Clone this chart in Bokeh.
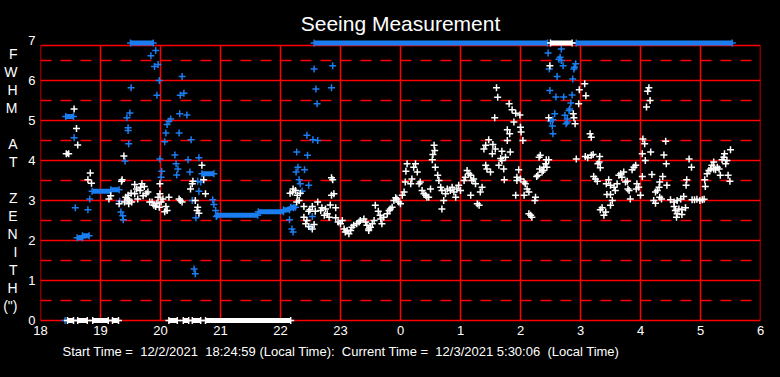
from bokeh.plotting import figure
from bokeh.models import Range1d, FixedTicker, Title, LinearAxis
from bokeh.embed import file_html
from bokeh.resources import INLINE

# ---------------- data ----------------
hour_ticks = list(range(18, 31))
hour_labels = ["18", "19", "20", "21", "22", "23", "0", "1", "2", "3", "4", "5", "6"]
fwhm_ticks = [0, 1, 2, 3, 4, 5, 6, 7]
fwhm_half = [0.5, 1.5, 2.5, 3.5, 4.5, 5.5, 6.5]
frame_top = 6.875
title_text = "Seeing Measurement"
footer_text = ("Start Time =\u00a0 12/2/2021\u00a0 18:24:59 (Local Time):\u00a0 "
               "Current Time =\u00a0 12/3/2021 5:30:06\u00a0 (Local Time)")
# vertical y-axis title, one letter per line, placed on the FWHM scale
ylabel_letters = ["F", "W", "H", "M", "A", "T", "Z", "E", "N", "I", "T", "H", "(\")"]
ylabel_pos = [6.675, 6.225, 5.775, 5.325, 4.425, 3.975, 3.075, 2.625, 2.175, 1.725, 1.275, 0.825, 0.375]

# scattered white samples (hour, FWHM)
white_points = [
    (18.56, 5.29), (18.60, 4.80), (18.62, 4.39), (18.83, 3.69), (18.79, 3.52), (18.85, 3.43),
    (19.14, 3.04), (19.17, 3.12), (19.31, 2.92), (19.35, 3.48), (19.36, 3.52), (19.39, 4.11),
    (19.42, 3.08), (19.46, 3.13), (19.45, 3.04), (19.48, 3.00), (19.52, 2.96), (19.57, 3.17),
    (19.60, 3.29), (19.62, 3.04), (19.66, 3.25), (19.67, 3.33), (19.69, 3.42), (19.73, 3.35),
    (19.71, 3.12), (19.76, 3.17), (19.79, 3.21), (19.57, 3.40), (19.51, 3.18), (19.40, 2.96),
    (19.47, 2.92), (19.82, 2.96), (19.86, 2.96), (19.89, 2.88), (19.92, 2.85), (19.94, 2.93),
    (19.98, 2.83), (20.01, 2.96), (20.04, 3.04), (20.09, 2.85), (20.11, 2.75), (20.07, 2.72),
    (20.14, 3.08), (19.99, 3.17), (19.96, 3.08), (19.99, 3.42), (20.31, 3.04), (20.33, 3.00),
    (20.36, 2.96), (20.53, 3.42), (20.54, 3.48), (20.50, 3.29), (20.58, 3.00), (20.62, 2.83),
    (20.64, 2.68), (20.61, 2.75), (20.75, 3.17), (20.69, 3.88), (20.72, 3.52),
    (22.85, 3.57), (22.87, 3.52), (22.21, 3.29), (22.20, 3.21), (22.25, 3.25), (22.16, 3.18),
    (22.28, 3.13), (22.31, 3.00), (22.33, 3.18), (22.27, 2.96), (22.85, 3.13), (22.89, 3.17),
    (22.62, 2.96), (22.83, 2.89), (22.92, 2.82), (22.69, 2.82), (22.75, 2.79), (22.67, 2.75),
    (22.49, 2.77), (22.53, 2.85), (22.39, 2.85), (22.47, 2.73), (22.58, 2.73), (22.78, 2.67),
    (22.81, 2.58), (22.73, 2.63), (22.39, 2.58), (22.42, 2.42), (22.44, 2.50), (22.56, 2.40),
    (22.53, 2.29), (22.47, 2.35), (22.92, 2.57), (22.96, 2.46), (23.00, 2.42), (23.03, 2.50),
    (23.06, 2.29), (23.08, 2.21), (23.14, 2.17), (23.17, 2.25), (23.11, 2.25), (23.19, 2.33),
    (23.22, 2.38), (23.27, 2.42), (23.31, 2.46), (23.33, 2.50), (23.39, 2.54), (23.42, 2.46),
    (23.44, 2.38), (23.47, 2.29), (23.50, 2.33), (23.53, 2.42), (23.56, 2.50), (23.47, 2.25),
    (23.58, 2.88), (23.63, 2.73), (23.66, 2.63), (23.69, 2.42), (23.67, 2.54), (23.72, 2.58),
    (23.78, 2.67), (23.81, 2.75), (23.83, 2.79), (23.86, 2.83), (23.89, 3.00), (23.94, 3.04),
    (23.97, 2.96), (24.00, 2.92), (24.03, 3.13), (24.06, 3.21), (23.92, 3.07), (24.08, 3.46),
    (24.17, 3.42), (24.19, 3.54), (24.31, 3.42), (24.33, 3.46), (24.36, 3.25), (24.42, 3.13),
    (24.44, 3.08), (24.39, 3.17), (24.47, 3.08), (24.50, 3.29), (24.11, 3.92), (24.25, 3.92),
    (24.22, 3.83), (24.28, 3.71), (24.09, 3.73), (24.53, 4.02), (24.56, 4.38), (24.57, 4.25),
    (24.54, 4.15), (24.58, 3.83), (24.62, 3.63), (24.64, 3.50), (24.67, 3.33), (24.69, 3.25),
    (24.72, 3.00), (24.69, 2.79), (24.75, 3.17), (24.78, 3.29), (24.83, 3.25), (24.86, 3.33),
    (24.89, 3.21), (24.92, 3.08), (24.94, 3.29), (24.97, 3.38), (25.00, 3.25), (25.06, 3.50),
    (25.08, 3.58), (25.11, 3.75), (25.14, 3.67), (25.17, 3.63), (25.19, 3.50), (25.22, 3.54),
    (25.25, 3.42), (25.17, 3.13), (25.33, 3.21), (25.36, 3.33), (25.31, 2.88), (25.28, 2.92),
    (25.39, 4.29), (25.42, 4.38), (25.47, 4.52), (25.54, 4.40), (25.58, 4.29), (25.53, 4.17),
    (25.42, 3.88), (25.44, 3.79), (25.50, 3.71), (25.64, 3.88), (25.69, 4.00), (25.75, 4.08),
    (25.78, 4.50), (25.83, 4.21), (25.67, 4.05), (25.72, 3.79), (25.78, 4.77), (25.82, 4.67),
    (25.89, 4.96), (26.00, 4.83), (26.01, 4.71), (26.04, 4.50), (25.94, 3.58), (26.00, 3.54),
    (26.06, 3.46), (26.08, 3.42), (26.11, 3.29), (26.14, 3.21), (25.92, 3.13), (26.06, 3.13),
    (26.14, 2.67), (25.60, 5.82), (25.62, 5.58), (25.81, 5.42), (25.86, 5.27), (25.92, 5.18),
    (25.99, 5.14), (25.57, 5.07), (26.49, 6.37), (27.07, 5.92), (26.98, 5.77), (27.09, 5.62),
    (26.97, 5.42), (26.47, 5.07), (26.88, 5.17), (26.89, 5.07), (26.91, 4.92), (28.14, 5.82),
    (28.12, 5.73), (28.16, 5.50), (28.10, 5.34), (27.16, 4.67), (27.18, 4.58), (25.69, 4.23),
    (26.33, 4.13), (26.31, 4.08), (26.43, 4.02), (26.47, 4.02), (26.42, 3.92), (26.39, 3.83),
    (26.44, 3.83), (26.32, 3.79), (26.36, 3.71), (26.38, 3.75), (25.73, 3.52), (25.97, 3.77),
    (25.94, 3.50), (26.27, 3.60), (26.29, 3.63), (26.25, 3.08), (26.24, 3.00), (26.17, 2.63),
    (26.19, 2.58), (26.93, 4.04), (27.08, 4.10), (27.12, 4.07), (27.18, 4.13), (27.21, 4.15),
    (27.32, 4.10), (27.29, 3.92), (27.33, 3.82), (27.31, 3.96), (27.22, 3.60), (27.25, 3.54),
    (27.28, 3.48), (27.47, 3.52), (27.43, 3.42), (27.50, 3.38), (27.56, 3.33), (27.58, 3.25),
    (27.61, 3.42), (27.44, 3.15), (27.50, 3.15), (27.53, 3.00), (27.50, 2.88), (27.64, 3.63),
    (27.67, 3.67), (27.69, 3.58), (27.72, 3.71), (27.75, 3.46), (27.78, 3.48), (27.79, 3.29),
    (27.81, 3.25), (27.83, 3.04), (27.86, 3.77), (27.89, 3.83), (27.92, 3.88), (27.94, 3.42),
    (27.97, 3.33), (28.00, 3.13), (28.03, 3.60), (27.93, 3.29), (27.36, 2.82), (27.33, 2.77),
    (27.39, 2.63), (27.42, 2.71), (28.04, 4.54), (28.07, 4.42), (28.03, 4.17), (28.08, 4.00),
    (28.17, 4.21), (28.39, 4.14), (28.42, 4.48), (28.43, 3.92), (28.19, 3.65), (28.37, 3.60),
    (28.44, 3.38), (28.32, 3.46), (28.31, 3.33), (28.28, 3.25), (28.25, 3.21), (28.32, 3.08),
    (28.22, 3.00), (28.25, 2.93), (28.35, 3.04), (28.50, 3.02), (28.56, 2.96), (28.61, 3.00),
    (28.67, 3.04), (28.72, 3.10), (28.77, 3.52), (28.76, 3.38), (28.85, 3.83), (28.81, 4.04),
    (28.75, 2.82), (28.69, 2.77), (28.64, 2.79), (28.58, 2.75), (28.56, 2.85), (28.61, 2.67),
    (28.60, 2.58), (28.69, 2.65), (28.86, 3.02), (28.90, 3.02), (28.94, 3.03), (28.99, 3.00),
    (29.03, 3.02), (29.06, 3.03), (29.08, 3.35), (29.07, 3.52), (29.11, 3.67), (29.14, 3.75),
    (29.17, 3.79), (29.19, 3.88), (29.22, 3.79), (29.25, 3.77), (29.28, 3.83), (29.31, 3.79),
    (29.33, 3.63), (29.36, 4.02), (29.39, 4.08), (29.40, 4.17), (29.42, 3.92), (29.44, 4.00),
    (29.46, 3.63), (29.49, 3.48), (29.50, 4.27), (29.22, 3.96),
]

# scattered blue samples (hour, FWHM)
blue_points = [
    (18.41, 0.00), (18.56, 4.57), (18.58, 2.82), (18.79, 2.77), (18.82, 3.04), (19.32, 2.98),
    (19.34, 2.71), (19.37, 2.62), (19.38, 2.52), (19.41, 3.99), (19.47, 4.42), (19.46, 4.75),
    (19.46, 4.82), (19.44, 5.07), (19.49, 5.19), (19.51, 5.82), (19.84, 6.62), (19.92, 6.75),
    (19.96, 6.40), (19.90, 6.35), (19.98, 6.00), (19.94, 5.63), (20.36, 6.10), (20.39, 5.68),
    (20.33, 5.63), (20.32, 5.17), (20.44, 5.14), (20.17, 5.04), (20.14, 4.98), (20.11, 4.90),
    (20.09, 4.69), (20.31, 4.69), (20.07, 4.47), (20.51, 4.52), (20.24, 4.14), (19.99, 4.04),
    (20.46, 4.02), (20.64, 4.07), (20.26, 3.92), (20.29, 3.79), (20.02, 3.73), (20.49, 3.71),
    (20.27, 3.64), (20.01, 3.58), (20.62, 3.48), (20.67, 3.46), (20.64, 3.23), (20.87, 3.02),
    (20.53, 3.00), (20.89, 2.90), (20.92, 2.75), (20.93, 2.60), (20.59, 2.57), (20.56, 1.29),
    (20.58, 1.17), (22.44, 4.63), (22.54, 4.52), (22.62, 4.50), (22.27, 4.21), (22.45, 4.13),
    (22.29, 3.83), (22.26, 3.71), (22.40, 3.77), (22.31, 3.52), (22.33, 3.42), (22.47, 3.38),
    (22.36, 3.23), (22.22, 2.82), (22.53, 2.60), (22.15, 2.52), (22.50, 2.33), (22.19, 2.29),
    (22.21, 2.21), (22.56, 6.29), (22.87, 6.37), (22.59, 5.79), (22.85, 5.82), (22.61, 5.42),
    (26.68, 6.79), (26.46, 6.69), (26.66, 6.58), (26.64, 6.53), (26.68, 6.50), (26.48, 6.29),
    (26.71, 6.37), (26.92, 6.42), (26.90, 6.33), (26.89, 6.29), (26.61, 6.10), (26.87, 6.04),
    (26.49, 5.75), (26.59, 5.59), (26.72, 5.59), (26.86, 5.64), (26.84, 5.44), (26.82, 5.29),
    (26.81, 5.25), (26.57, 5.17), (26.74, 5.13), (26.78, 5.04), (26.54, 5.02), (26.50, 4.98),
    (26.76, 4.92), (26.53, 4.86), (26.54, 4.67), (26.78, 4.96),
]

# dense runs of consecutive samples: start hour, end hour, FWHM
white_run_start = [18.45, 18.62, 18.87, 19.20, 20.14, 20.38, 20.53, 20.75, 18.43, 26.50]
white_run_end = [18.55, 18.78, 19.13, 19.30, 20.28, 20.47, 20.67, 22.17, 18.47, 26.86]
white_run_fwhm = [0.0, 0.0, 0.0, 0.0, 0.0, 0.0, 0.0, 0.0, 4.17, 6.94]

blue_run_start = [18.42, 18.61, 18.70, 18.86, 19.17, 20.69, 20.95, 21.63, 22.05, 22.17, 19.50, 22.56, 26.93]
blue_run_end = [18.55, 18.70, 18.81, 19.17, 19.31, 20.89, 21.62, 22.05, 22.15, 22.25, 19.88, 26.45, 29.53]
blue_run_fwhm = [5.10, 2.07, 2.12, 3.23, 3.27, 3.67, 2.63, 2.72, 2.77, 2.83, 6.94, 6.94, 6.94]

# ---------------- styles ----------------
RED = "#ff0000"
BLUE = "#1a7ef0"
WHITE = "#ffffff"
FONT = "Liberation Sans"

p = figure(width=780, height=377, output_backend="svg", toolbar_location=None,
           x_range=Range1d(18, 30), y_range=Range1d(-0.1, 7.1),
           background_fill_color="black", border_fill_color="black",
           min_border_left=40, min_border_right=20, min_border_top=36, min_border_bottom=53)
p.styles = {"background-color": "#000000"}
p.outline_line_color = None
p.outline_line_alpha = 0
p.xgrid.grid_line_color = None
p.ygrid.grid_line_color = None
p.grid.visible = False

# title and footer
p.title = Title(text=title_text, align="center", offset=-4, standoff=3,
                text_color=WHITE, text_font=FONT, text_font_size="21px",
                text_font_style="normal")
p.add_layout(Title(text=footer_text, align="left", offset=22, standoff=8,
                   text_color=WHITE, text_font=FONT, text_font_size="13px",
                   text_font_style="normal"), "below")

# axes
p.xaxis.ticker = FixedTicker(ticks=hour_ticks)
p.xaxis.major_label_overrides = {t: l for t, l in zip(hour_ticks, hour_labels)}
p.yaxis.ticker = FixedTicker(ticks=fwhm_ticks)
letter_axis = LinearAxis(ticker=FixedTicker(ticks=ylabel_pos),
                         major_label_overrides={v: s for v, s in zip(ylabel_pos, ylabel_letters)})
p.add_layout(letter_axis, "left")
for ax in (p.xaxis[0], p.yaxis[0], letter_axis):
    ax.axis_line_color = None
    ax.major_tick_line_color = None
    ax.minor_tick_line_color = None
    ax.major_tick_out = 0
    ax.major_tick_in = 0
    ax.major_label_text_color = WHITE
    ax.major_label_text_font = FONT
    ax.major_label_text_font_size = "13px"
p.xaxis.major_label_standoff = 1
p.yaxis[0].major_label_standoff = 5
letter_axis.major_label_text_font_size = "14px"
letter_axis.major_label_standoff = 8

# grid / frame drawn from tick lists
n_h = len(hour_ticks)
p.segment(x0=hour_ticks, y0=[0] * n_h, x1=hour_ticks, y1=[frame_top] * n_h,
          line_color=RED, line_width=1.5)
solid_y = fwhm_ticks[:-1] + [frame_top]
p.segment(x0=[hour_ticks[0]] * len(solid_y), y0=solid_y,
          x1=[hour_ticks[-1]] * len(solid_y), y1=solid_y,
          line_color=RED, line_width=1.5)
p.segment(x0=[hour_ticks[0]] * len(fwhm_half), y0=fwhm_half,
          x1=[hour_ticks[-1]] * len(fwhm_half), y1=fwhm_half,
          line_color=RED, line_width=1.5, line_dash="11 9")

# blue series
p.segment(x0=blue_run_start, y0=blue_run_fwhm, x1=blue_run_end, y1=blue_run_fwhm,
          line_color=BLUE, line_width=5)
p.scatter(x=blue_run_start + blue_run_end, y=blue_run_fwhm + blue_run_fwhm,
          marker="cross", size=7, line_color=BLUE, line_width=1.5)
p.scatter(x=[t for t, v in blue_points], y=[v for t, v in blue_points],
          marker="cross", size=7, line_color=BLUE, line_width=1.5)

# white series
p.segment(x0=white_run_start, y0=white_run_fwhm, x1=white_run_end, y1=white_run_fwhm,
          line_color=WHITE, line_width=5)
p.scatter(x=white_run_start + white_run_end, y=white_run_fwhm + white_run_fwhm,
          marker="cross", size=7, line_color=WHITE, line_width=1.5)
p.scatter(x=[t for t, v in white_points], y=[v for t, v in white_points],
          marker="cross", size=7, line_color=WHITE, line_width=1.5)

html = file_html(p, INLINE)
html = html.replace("<head>", "<head>\n<style>html, body { background: #000000; margin: 0; }</style>", 1)
open("out.html", "w").write(html)
